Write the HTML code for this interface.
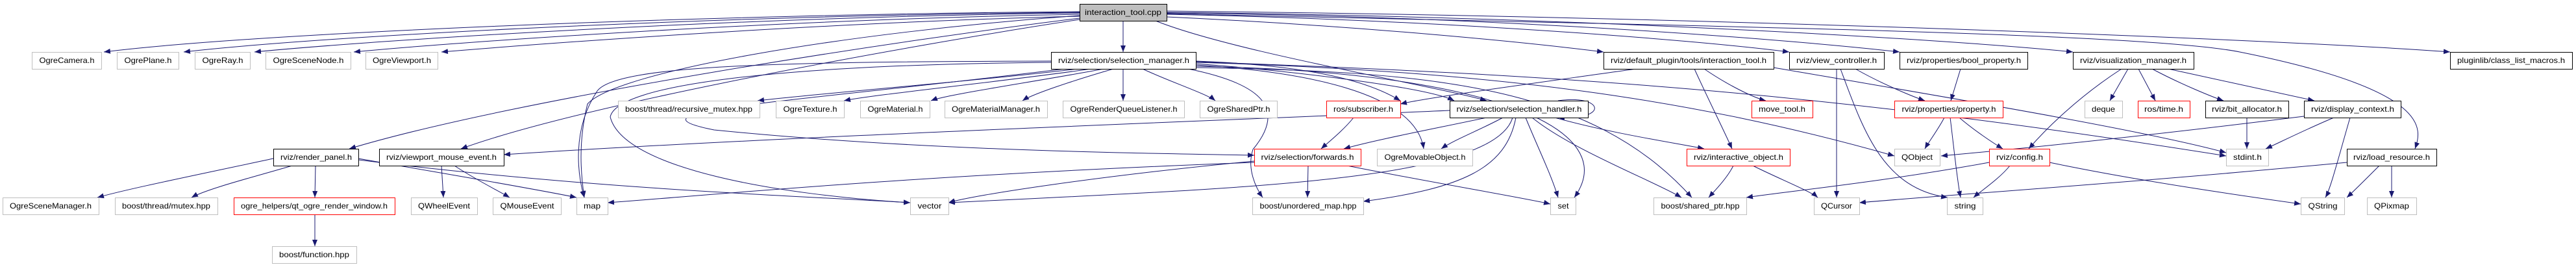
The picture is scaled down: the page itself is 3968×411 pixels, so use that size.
<!DOCTYPE html>
<html><head><meta charset="utf-8"><style>
html,body{margin:0;padding:0;background:#fff;}
svg{display:block}
text{font-family:"Liberation Sans",sans-serif;font-size:12px;fill:#000}
.g{fill:#fff;stroke:#bfbfbf;stroke-width:1}
.b{fill:#fff;stroke:#000;stroke-width:1}
.r{fill:#fff;stroke:#ff0000;stroke-width:1}
.e{fill:none;stroke:#191970;stroke-width:1;marker-end:url(#a)}
</style></head><body>
<svg width="3968" height="411" viewBox="0 0 3968 411" xmlns="http://www.w3.org/2000/svg">
<defs><marker id="a" markerUnits="userSpaceOnUse" markerWidth="10" markerHeight="8" refX="10" refY="4" orient="auto"><path d="M0,0 L10,4 L0,8 z" fill="#191970"/></marker></defs>
<g>
<!-- cpp edges -->
<path class="e" d="M1663,18 C1100,22 400,50 160,80"/>
<path class="e" d="M1663,19 C1100,24 500,55 283,80"/>
<path class="e" d="M1663,20 C1150,26 600,60 392,80"/>
<path class="e" d="M1663,22 C1200,30 700,65 545,80"/>
<path class="e" d="M1663,25 C1250,35 800,70 680,80"/>
<path class="e" d="M1663,28 C1400,60 800,150 538,229"/>
<path class="e" d="M1663,30 C1400,70 900,160 710,229"/>
<path class="e" d="M1730,32 L1730,80"/>
<path class="e" d="M1780,32 C1900,80 2200,130 2290,155"/>
<path class="e" d="M1797,26 C2100,40 2350,65 2470,80"/>
<path class="e" d="M1797,22 C2200,30 2600,60 2756,80"/>
<path class="e" d="M1797,20 C2300,25 2750,60 2926,80"/>
<path class="e" d="M1797,19 C2400,25 3000,60 3193,80"/>
<path class="e" d="M1797,17 C2600,25 3500,60 3774,80"/>
<path class="e" d="M1797,21 C2600,40 3300,50 3450,80 C3750,140 3730,200 3720,229"/>
<path class="e" d="M1663,24 C1300,50 950,110 905,160 C890,220 895,270 900,304"/>
<!-- selection_manager -->
<path class="e" d="M1660,106 C1500,125 1250,145 1167,155"/>
<path class="e" d="M1680,106 C1550,125 1350,145 1300,155"/>
<path class="e" d="M1700,106 C1600,125 1460,145 1434,155"/>
<path class="e" d="M1715,106 C1650,125 1590,145 1575,155"/>
<path class="e" d="M1730,106 L1730,155"/>
<path class="e" d="M1760,106 C1800,125 1860,145 1872,155"/>
<path class="e" d="M1619,94 C1200,95 950,100 920,140 C880,200 890,270 900,304"/>
<path class="e" d="M1619,96 C1200,100 950,130 940,180 C960,260 1200,300 1402,312"/>
<path class="e" d="M1640,106 C1200,160 950,170 1100,200 C1400,230 1700,235 1932,239"/>
<path class="e" d="M1830,106 C1950,130 1980,170 1930,230 C1920,260 1935,290 1945,304"/>
<path class="e" d="M1842,94 C2000,100 2100,120 2157,155"/>
<path class="e" d="M1842,98 C2000,110 2200,135 2240,155"/>
<path class="e" d="M1842,100 C2000,110 2180,140 2193,229"/>
<path class="e" d="M1842,102 C2300,110 2500,200 2425,304"/>
<path class="e" d="M1842,104 C2200,110 2450,130 2606,304"/>
<path class="e" d="M1842,96 C2300,110 2600,150 2918,240"/>
<path class="e" d="M1842,95 C2400,115 2800,140 3429,240"/>
<!-- selection_handler -->
<path class="e" d="M2233,170 C1900,185 1200,210 776,238"/>
<path class="e" d="M2290,181 C2200,200 2120,215 2070,229"/>
<path class="e" d="M2315,181 C2280,200 2240,215 2220,229"/>
<path class="e" d="M2335,181 C2320,260 2250,290 2100,310"/>
<path class="e" d="M2350,181 C2370,230 2390,270 2400,304"/>
<path class="e" d="M2360,181 C2420,230 2550,280 2590,304"/>
<path class="e" d="M2395,181 C2480,205 2580,220 2625,229"/>
<path class="e" d="M2330,181 C2300,280 1900,290 1461,312"/>
<path class="e" d="M2400,155 C2470,145 2480,185 2400,181"/>
<!-- render panel -->
<path class="e" d="M421,244 C300,270 200,290 150,304"/>
<path class="e" d="M450,255 C400,270 320,290 295,304"/>
<path class="e" d="M486,255 L485,304"/>
<path class="e" d="M552,244 C700,270 820,290 888,304"/>
<path class="e" d="M552,246 C900,290 1200,300 1402,312"/>
<path class="e" d="M485,330 L485,379"/>
<path class="e" d="M680,255 L683,304"/>
<path class="e" d="M700,255 C730,275 770,295 785,304"/>
<!-- forwards -->
<path class="e" d="M2015,255 L2014,304"/>
<path class="e" d="M2075,255 C2200,280 2350,305 2388,314"/>
<path class="e" d="M1932,248 C1700,270 1500,300 1461,312"/>
<path class="e" d="M1932,250 C1400,270 1100,300 936,312"/>
<path class="e" d="M2085,181 C2070,200 2045,220 2035,229"/>
<!-- default tool -->
<path class="e" d="M2520,106 C2350,130 2200,150 2157,160"/>
<path class="e" d="M2625,106 C2660,130 2700,150 2720,155"/>
<path class="e" d="M2610,106 C2630,150 2655,200 2668,229"/>
<path class="e" d="M2732,104 C3000,150 3300,200 3429,235"/>
<path class="e" d="M2670,255 C2660,275 2640,295 2632,304"/>
<path class="e" d="M2700,255 C2740,275 2790,295 2800,304"/>
<!-- view controller -->
<path class="e" d="M2829,106 L2829,304"/>
<path class="e" d="M2858,106 C2900,130 2950,150 2965,155"/>
<path class="e" d="M2835,106 C2870,200 2900,290 3000,304"/>
<path class="e" d="M3020,106 L3005,155"/>
<path class="e" d="M3004,181 C3010,230 3015,280 3020,304"/>
<path class="e" d="M2995,181 C2985,200 2970,220 2965,229"/>
<path class="e" d="M3018,181 C3040,200 3070,220 3085,229"/>
<!-- vis manager -->
<path class="e" d="M3268,106 C3200,150 3150,200 3125,229"/>
<path class="e" d="M3278,106 L3250,155"/>
<path class="e" d="M3294,106 L3320,155"/>
<path class="e" d="M3315,106 C3360,130 3410,150 3425,155"/>
<path class="e" d="M3340,106 C3450,130 3540,150 3565,155"/>
<path class="e" d="M3461,181 L3461,229"/>
<path class="e" d="M3595,181 C3550,200 3510,220 3490,229"/>
<path class="e" d="M3549,179 C3300,210 3100,230 2990,240"/>
<path class="e" d="M3620,181 C3600,250 3590,290 3582,304"/>
<!-- config -->
<path class="e" d="M3096,255 C3080,275 3050,295 3040,304"/>
<path class="e" d="M3157,250 C3300,280 3480,305 3544,314"/>
<path class="e" d="M3064,250 C2900,280 2750,295 2690,304"/>
<!-- load resource -->
<path class="e" d="M3665,255 C3640,280 3625,295 3615,304"/>
<path class="e" d="M3684,255 L3684,304"/>
<path class="e" d="M3615,250 C3300,280 3000,300 2864,312"/>
</g>
<g>
<rect x="1663.5" y="6.5" width="134" height="26" fill="#bfbfbf" stroke="#000"/><text x="1730" y="23" text-anchor="middle" textLength="118" lengthAdjust="spacingAndGlyphs">interaction_tool.cpp</text>

<rect class="g" x="49.5" y="80.5" width="107" height="26"/><text x="103" y="97" text-anchor="middle" textLength="85" lengthAdjust="spacingAndGlyphs">OgreCamera.h</text>
<rect class="g" x="180.5" y="80.5" width="95" height="26"/><text x="228" y="97" text-anchor="middle" textLength="73" lengthAdjust="spacingAndGlyphs">OgrePlane.h</text>
<rect class="g" x="300.5" y="80.5" width="85" height="26"/><text x="343" y="97" text-anchor="middle" textLength="63" lengthAdjust="spacingAndGlyphs">OgreRay.h</text>
<rect class="g" x="409.5" y="80.5" width="131" height="26"/><text x="475" y="97" text-anchor="middle" textLength="109" lengthAdjust="spacingAndGlyphs">OgreSceneNode.h</text>
<rect class="g" x="563.5" y="80.5" width="111" height="26"/><text x="619" y="97" text-anchor="middle" textLength="90" lengthAdjust="spacingAndGlyphs">OgreViewport.h</text>
<rect class="b" x="1619.5" y="80.5" width="223" height="26"/><text x="1731" y="97" text-anchor="middle" textLength="202" lengthAdjust="spacingAndGlyphs">rviz/selection/selection_manager.h</text>
<rect class="b" x="2470.5" y="80.5" width="262" height="26"/><text x="2601" y="97" text-anchor="middle" textLength="240" lengthAdjust="spacingAndGlyphs">rviz/default_plugin/tools/interaction_tool.h</text>
<rect class="b" x="2756.5" y="80.5" width="146" height="26"/><text x="2829" y="97" text-anchor="middle" textLength="124" lengthAdjust="spacingAndGlyphs">rviz/view_controller.h</text>
<rect class="b" x="2926.5" y="80.5" width="197" height="26"/><text x="3025" y="97" text-anchor="middle" textLength="176" lengthAdjust="spacingAndGlyphs">rviz/properties/bool_property.h</text>
<rect class="b" x="3193.5" y="80.5" width="186" height="26"/><text x="3286" y="97" text-anchor="middle" textLength="164" lengthAdjust="spacingAndGlyphs">rviz/visualization_manager.h</text>
<rect class="b" x="3774.5" y="80.5" width="188" height="26"/><text x="3868" y="97" text-anchor="middle" textLength="166" lengthAdjust="spacingAndGlyphs">pluginlib/class_list_macros.h</text>

<rect class="g" x="952.5" y="155.5" width="218" height="26"/><text x="1061" y="172" text-anchor="middle" textLength="196" lengthAdjust="spacingAndGlyphs">boost/thread/recursive_mutex.hpp</text>
<rect class="g" x="1195.5" y="155.5" width="105" height="26"/><text x="1248" y="172" text-anchor="middle" textLength="83" lengthAdjust="spacingAndGlyphs">OgreTexture.h</text>
<rect class="g" x="1325.5" y="155.5" width="107" height="26"/><text x="1379" y="172" text-anchor="middle" textLength="85" lengthAdjust="spacingAndGlyphs">OgreMaterial.h</text>
<rect class="g" x="1455.5" y="155.5" width="158" height="26"/><text x="1534" y="172" text-anchor="middle" textLength="136" lengthAdjust="spacingAndGlyphs">OgreMaterialManager.h</text>
<rect class="g" x="1637.5" y="155.5" width="187" height="26"/><text x="1731" y="172" text-anchor="middle" textLength="165" lengthAdjust="spacingAndGlyphs">OgreRenderQueueListener.h</text>
<rect class="g" x="1848.5" y="155.5" width="119" height="26"/><text x="1908" y="172" text-anchor="middle" textLength="97" lengthAdjust="spacingAndGlyphs">OgreSharedPtr.h</text>
<rect class="r" x="2043.5" y="155.5" width="114" height="26"/><text x="2100" y="172" text-anchor="middle" textLength="92" lengthAdjust="spacingAndGlyphs">ros/subscriber.h</text>
<rect class="b" x="2233.5" y="155.5" width="213" height="26"/><text x="2340" y="172" text-anchor="middle" textLength="193" lengthAdjust="spacingAndGlyphs">rviz/selection/selection_handler.h</text>
<rect class="r" x="2698.5" y="155.5" width="94" height="26"/><text x="2745" y="172" text-anchor="middle" textLength="72" lengthAdjust="spacingAndGlyphs">move_tool.h</text>
<rect class="r" x="2918.5" y="155.5" width="167" height="26"/><text x="3002" y="172" text-anchor="middle" textLength="145" lengthAdjust="spacingAndGlyphs">rviz/properties/property.h</text>
<rect class="g" x="3211.5" y="155.5" width="58" height="26"/><text x="3240" y="172" text-anchor="middle" textLength="36" lengthAdjust="spacingAndGlyphs">deque</text>
<rect class="r" x="3293.5" y="155.5" width="80" height="26"/><text x="3333" y="172" text-anchor="middle" textLength="60" lengthAdjust="spacingAndGlyphs">ros/time.h</text>
<rect class="b" x="3397.5" y="155.5" width="128" height="26"/><text x="3461" y="172" text-anchor="middle" textLength="108" lengthAdjust="spacingAndGlyphs">rviz/bit_allocator.h</text>
<rect class="b" x="3549.5" y="155.5" width="149" height="26"/><text x="3624" y="172" text-anchor="middle" textLength="128" lengthAdjust="spacingAndGlyphs">rviz/display_context.h</text>

<rect class="b" x="421.5" y="229.5" width="131" height="26"/><text x="487" y="246" text-anchor="middle" textLength="110" lengthAdjust="spacingAndGlyphs">rviz/render_panel.h</text>
<rect class="b" x="584.5" y="229.5" width="192" height="26"/><text x="680" y="246" text-anchor="middle" textLength="170" lengthAdjust="spacingAndGlyphs">rviz/viewport_mouse_event.h</text>
<rect class="r" x="1932.5" y="229.5" width="164" height="26"/><text x="2014" y="246" text-anchor="middle" textLength="143" lengthAdjust="spacingAndGlyphs">rviz/selection/forwards.h</text>
<rect class="g" x="2121.5" y="229.5" width="147" height="26"/><text x="2195" y="246" text-anchor="middle" textLength="125" lengthAdjust="spacingAndGlyphs">OgreMovableObject.h</text>
<rect class="r" x="2598.5" y="229.5" width="159" height="26"/><text x="2678" y="246" text-anchor="middle" textLength="138" lengthAdjust="spacingAndGlyphs">rviz/interactive_object.h</text>
<rect class="g" x="2918.5" y="229.5" width="70" height="26"/><text x="2953" y="246" text-anchor="middle" textLength="48" lengthAdjust="spacingAndGlyphs">QObject</text>
<rect class="r" x="3064.5" y="229.5" width="93" height="26"/><text x="3111" y="246" text-anchor="middle" textLength="72" lengthAdjust="spacingAndGlyphs">rviz/config.h</text>
<rect class="g" x="3429.5" y="229.5" width="65" height="26"/><text x="3462" y="246" text-anchor="middle" textLength="44" lengthAdjust="spacingAndGlyphs">stdint.h</text>
<rect class="b" x="3615.5" y="229.5" width="138" height="26"/><text x="3684" y="246" text-anchor="middle" textLength="118" lengthAdjust="spacingAndGlyphs">rviz/load_resource.h</text>

<rect class="g" x="4.5" y="304.5" width="148" height="26"/><text x="78" y="321" text-anchor="middle" textLength="126" lengthAdjust="spacingAndGlyphs">OgreSceneManager.h</text>
<rect class="g" x="177.5" y="304.5" width="158" height="26"/><text x="256" y="321" text-anchor="middle" textLength="136" lengthAdjust="spacingAndGlyphs">boost/thread/mutex.hpp</text>
<rect class="r" x="360.5" y="304.5" width="248" height="26"/><text x="484" y="321" text-anchor="middle" textLength="226" lengthAdjust="spacingAndGlyphs">ogre_helpers/qt_ogre_render_window.h</text>
<rect class="g" x="633.5" y="304.5" width="102" height="26"/><text x="684" y="321" text-anchor="middle" textLength="80" lengthAdjust="spacingAndGlyphs">QWheelEvent</text>
<rect class="g" x="759.5" y="304.5" width="105" height="26"/><text x="812" y="321" text-anchor="middle" textLength="83" lengthAdjust="spacingAndGlyphs">QMouseEvent</text>
<rect class="g" x="888.5" y="304.5" width="48" height="26"/><text x="912" y="321" text-anchor="middle" textLength="26" lengthAdjust="spacingAndGlyphs">map</text>
<rect class="g" x="1402.5" y="304.5" width="59" height="26"/><text x="1432" y="321" text-anchor="middle" textLength="37" lengthAdjust="spacingAndGlyphs">vector</text>
<rect class="g" x="1929.5" y="304.5" width="171" height="26"/><text x="2015" y="321" text-anchor="middle" textLength="149" lengthAdjust="spacingAndGlyphs">boost/unordered_map.hpp</text>
<rect class="g" x="2388.5" y="304.5" width="39" height="26"/><text x="2408" y="321" text-anchor="middle" textLength="17" lengthAdjust="spacingAndGlyphs">set</text>
<rect class="g" x="2547.5" y="304.5" width="143" height="26"/><text x="2619" y="321" text-anchor="middle" textLength="121" lengthAdjust="spacingAndGlyphs">boost/shared_ptr.hpp</text>
<rect class="g" x="2794.5" y="304.5" width="70" height="26"/><text x="2829" y="321" text-anchor="middle" textLength="48" lengthAdjust="spacingAndGlyphs">QCursor</text>
<rect class="g" x="2999.5" y="304.5" width="55" height="26"/><text x="3027" y="321" text-anchor="middle" textLength="33" lengthAdjust="spacingAndGlyphs">string</text>
<rect class="g" x="3544.5" y="304.5" width="67" height="26"/><text x="3578" y="321" text-anchor="middle" textLength="45" lengthAdjust="spacingAndGlyphs">QString</text>
<rect class="g" x="3646.5" y="304.5" width="76" height="26"/><text x="3684" y="321" text-anchor="middle" textLength="54" lengthAdjust="spacingAndGlyphs">QPixmap</text>

<rect class="g" x="419.5" y="379.5" width="130" height="26"/><text x="484" y="396" text-anchor="middle" textLength="108" lengthAdjust="spacingAndGlyphs">boost/function.hpp</text>
</g>
</svg>
</body></html>
